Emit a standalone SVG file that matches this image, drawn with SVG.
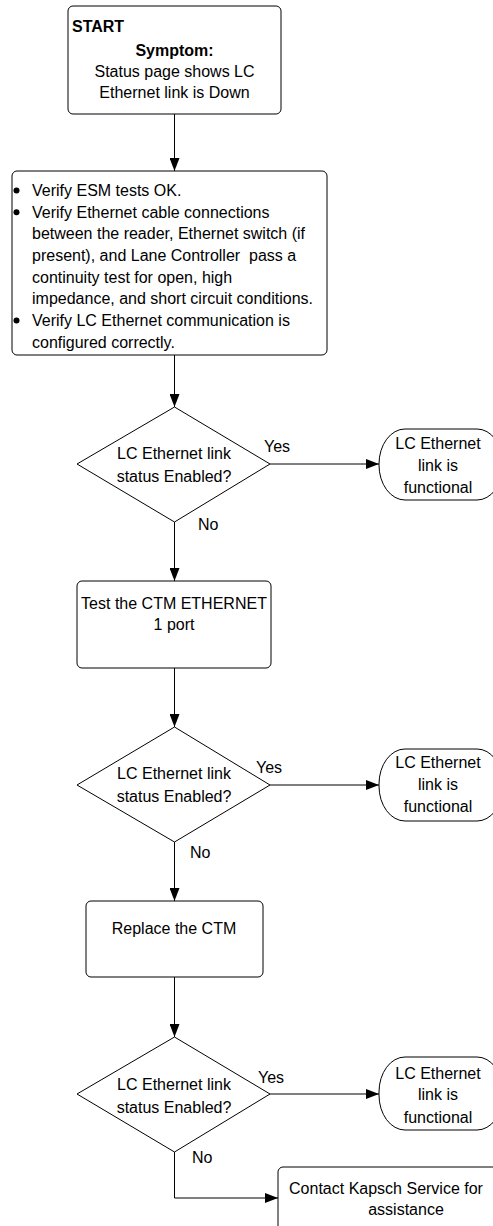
<svg xmlns="http://www.w3.org/2000/svg" width="493" height="1226" viewBox="0 0 493 1226">
<style>
.shape{fill:#fff;stroke:#000;stroke-width:1}
.t{font-family:"Liberation Sans",Arial,sans-serif;font-size:16px;fill:#000}
.c{text-anchor:middle}
.b{font-weight:bold}
.conn{fill:none;stroke:#000;stroke-width:1}
</style>
<defs>
<marker id="arr" markerWidth="13" markerHeight="10" refX="13" refY="5" orient="auto" markerUnits="userSpaceOnUse">
<path d="M0,0 L13,5 L0,10 Z" fill="#000"/>
</marker>
</defs>
<rect width="493" height="1226" fill="#fff"/>
<g id="connectors">
<path class="conn" d="M174.5,114 V171" marker-end="url(#arr)"/>
<path class="conn" d="M174.5,355 V407" marker-end="url(#arr)"/>
<path class="conn" d="M270,464 H379" marker-end="url(#arr)"/>
<path class="conn" d="M174.5,522 V581" marker-end="url(#arr)"/>
<path class="conn" d="M174.5,668 V727" marker-end="url(#arr)"/>
<path class="conn" d="M270,785 H379" marker-end="url(#arr)"/>
<path class="conn" d="M174.5,842 V901" marker-end="url(#arr)"/>
<path class="conn" d="M174.5,977 V1037" marker-end="url(#arr)"/>
<path class="conn" d="M270,1094 H379" marker-end="url(#arr)"/>
<path class="conn" d="M174.5,1152 V1198 H278" marker-end="url(#arr)"/>
<text class="t" x="264" y="452">Yes</text>
<text class="t" x="198" y="530">No</text>
<text class="t" x="256" y="773">Yes</text>
<text class="t" x="190" y="858">No</text>
<text class="t" x="258" y="1083">Yes</text>
<text class="t" x="192" y="1163">No</text>
</g>
<g id="start">
<rect class="shape" x="68" y="6" width="213" height="108" rx="5"/>
<text class="t b" x="72" y="32">START</text>
<text class="t b c" x="174.5" y="56">Symptom:</text>
<text class="t c" x="174.5" y="77">Status page shows LC</text>
<text class="t c" x="174.5" y="98">Ethernet link is Down</text>
</g>
<g id="verify">
<rect class="shape" x="12" y="171" width="315" height="184" rx="5"/>
<circle cx="16.5" cy="190.5" r="3"/>
<circle cx="16.5" cy="212.2" r="3"/>
<circle cx="16.5" cy="320.5" r="3"/>
<text class="t" x="32" y="196">Verify ESM tests OK.</text>
<text class="t" x="32" y="217.7">Verify Ethernet cable connections</text>
<text class="t" x="32" y="239.3">between the reader, Ethernet switch (if</text>
<text class="t" x="32" y="261">present), and Lane Controller&#160; pass a</text>
<text class="t" x="32" y="282.7">continuity test for open, high</text>
<text class="t" x="32" y="304.3">impedance, and short circuit conditions.</text>
<text class="t" x="32" y="326">Verify LC Ethernet communication is</text>
<text class="t" x="32" y="347.7">configured correctly.</text>
</g>
<g id="decision1">
<polygon class="shape" points="174.5,407 270,464 174.5,522 77,464"/>
<text class="t c" x="174" y="459">LC Ethernet link</text>
<text class="t c" x="174" y="482">status Enabled?</text>
</g>
<g id="ok1">
<rect class="shape" x="379" y="429" width="124" height="71" rx="26" ry="35"/>
<text class="t c" x="438" y="449">LC Ethernet</text>
<text class="t c" x="438" y="471">link is</text>
<text class="t c" x="438" y="493">functional</text>
</g>
<g id="testctm">
<rect class="shape" x="77" y="581" width="194" height="87" rx="5"/>
<text class="t c" x="174" y="609">Test the CTM ETHERNET</text>
<text class="t c" x="174" y="630">1 port</text>
</g>
<g id="decision2">
<polygon class="shape" points="174.5,727 270,785 174.5,842 77,785"/>
<text class="t c" x="174" y="779">LC Ethernet link</text>
<text class="t c" x="174" y="802">status Enabled?</text>
</g>
<g id="ok2">
<rect class="shape" x="379" y="749" width="124" height="72" rx="26" ry="35"/>
<text class="t c" x="438" y="768">LC Ethernet</text>
<text class="t c" x="438" y="790">link is</text>
<text class="t c" x="438" y="812">functional</text>
</g>
<g id="replacectm">
<rect class="shape" x="86" y="901" width="177" height="76" rx="5"/>
<text class="t c" x="174" y="934">Replace the CTM</text>
</g>
<g id="decision3">
<polygon class="shape" points="174.5,1037 270,1094 174.5,1152 77,1094"/>
<text class="t c" x="174" y="1090">LC Ethernet link</text>
<text class="t c" x="174" y="1113">status Enabled?</text>
</g>
<g id="ok3">
<rect class="shape" x="379" y="1057" width="124" height="73" rx="26" ry="35"/>
<text class="t c" x="438" y="1079">LC Ethernet</text>
<text class="t c" x="438" y="1100">link is</text>
<text class="t c" x="438" y="1123">functional</text>
</g>
<g id="contact">
<rect class="shape" x="278" y="1167" width="240" height="80" rx="5"/>
<text class="t c" x="386" y="1194">Contact Kapsch Service for</text>
<text class="t c" x="406" y="1215">assistance</text>
</g>
</svg>
